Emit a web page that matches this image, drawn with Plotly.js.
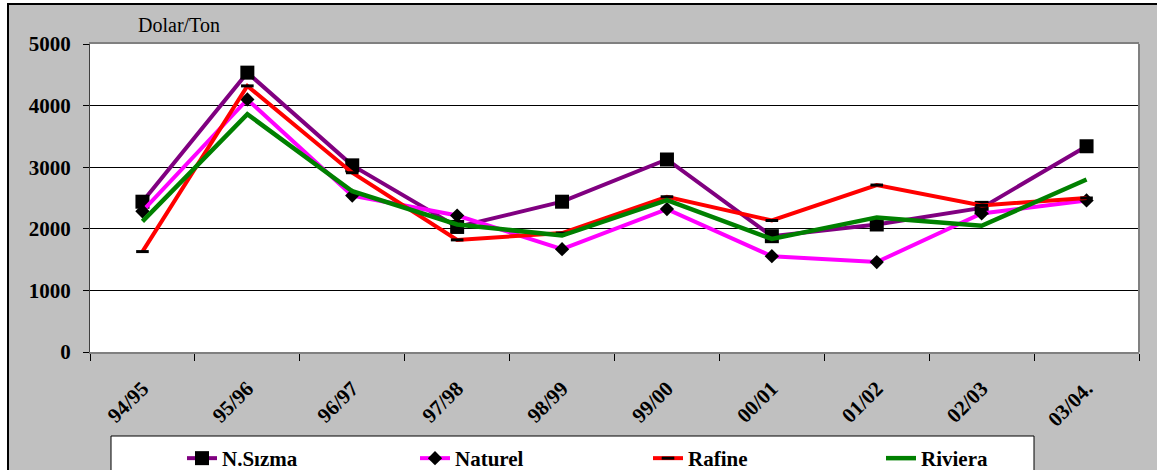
<!DOCTYPE html>
<html>
<head>
<meta charset="utf-8">
<script src="https://cdn.plot.ly/plotly-3.0.1.min.js"></script>
<style>
    html, body { margin: 0; padding: 0; background: #ffffff; }
    #chart {
        position: absolute;
        left: 7px;
        top: 3px;
        width: 1148px;
        height: 465px;
        border-left: 2px solid #000;
        border-top: 2px solid #000;
    }
</style>
</head>
<body>
<div id="chart"></div>
<script>
// Sezonlar
const seasons = ['94/95', '95/96', '96/97', '97/98', '98/99', '99/00', '00/01', '01/02', '02/03', '03/04.'];

// Fiyatlar (Dolar/Ton)
const nSizma  = [2440, 4535, 3030, 2030, 2440, 3125, 1880, 2070, 2340, 3340];
const naturel = [2285, 4100, 2540, 2215, 1670, 2320, 1555, 1460, 2250, 2460];
const rafine  = [1630, 4320, 2910, 1820, 1930, 2520, 2135, 2710, 2380, 2500];
const riviera = [2120, 3860, 2610, 2070, 1890, 2465, 1835, 2185, 2050, 2800];

const fontFamily = 'Liberation Serif';

const traces = [
    {
        x: seasons, y: nSizma, name: 'N.Sızma', mode: 'lines+markers',
        line: { color: '#800080', width: 4 },
        marker: { symbol: 'square', size: 14, color: '#000000' }
    },
    {
        x: seasons, y: naturel, name: 'Naturel', mode: 'lines+markers',
        line: { color: '#ff00ff', width: 4 },
        marker: { symbol: 'diamond', size: 11, color: '#000000' }
    },
    {
        x: seasons, y: rafine, name: 'Rafine', mode: 'lines+markers',
        line: { color: '#ff0000', width: 4 },
        marker: { symbol: 'line-ew', size: 9, color: '#000000', line: { color: '#000000', width: 3 } }
    },
    {
        x: seasons, y: riviera, name: 'Riviera', mode: 'lines',
        line: { color: '#008000', width: 4.5 }
    }
];

// piksel -> paper dönüşümü (çizim alanı 90..1139 x 44..352)
const px = v => (v - 90) / 1049;
const py = v => (352 - v) / 308;

const layout = {
    width: 1148,
    height: 465,
    margin: { l: 81, r: 18, t: 39, b: 118 },
    paper_bgcolor: '#c0c0c0',
    plot_bgcolor: '#ffffff',
    font: { family: fontFamily, color: '#000000' },
    showlegend: true,
    xaxis: {
        type: 'category',
        range: [-0.5, 9.5],
        tickson: 'boundaries',
        ticks: 'outside',
        ticklen: 7,
        tickcolor: '#000000',
        showgrid: false,
        showline: true,
        linecolor: '#808080',
        linewidth: 2,
        mirror: true,
        tickangle: -45,
        ticklabelstandoff: 14,
        tickfont: { family: fontFamily, size: 21, weight: 'bold' }
    },
    yaxis: {
        range: [0, 5000],
        dtick: 1000,
        ticks: 'outside',
        ticklen: 6,
        tickcolor: '#000000',
        showline: true,
        linecolor: '#404040',
        linewidth: 1,
        gridcolor: '#000000',
        gridwidth: 1,
        zeroline: false,
        ticklabelstandoff: 8,
        tickfont: { family: fontFamily, size: 21, weight: 'bold' }
    },
    legend: {
        orientation: 'h',
        xref: 'container',
        yref: 'container',
        x: (182 - 9) / 1148,
        y: 1 - (438 - 5) / 465,
        xanchor: 'left',
        yanchor: 'top',
        bgcolor: 'rgba(0,0,0,0)',
        borderwidth: 0,
        entrywidth: 188,
        entrywidthmode: 'pixels',
        font: { family: fontFamily, size: 21, weight: 'bold' }
    },
    shapes: [
        {
            type: 'rect', xref: 'paper', yref: 'paper',
            x0: px(111), x1: px(1034), y0: py(436), y1: py(490),
            fillcolor: '#ffffff', line: { color: '#000000', width: 1 }
        },
        {
            type: 'line', xref: 'paper', yref: 'paper',
            x0: 1, x1: 1, y0: 0, y1: 1,
            line: { color: '#808080', width: 2 }
        }
    ],
    annotations: [
        {
            text: 'Dolar/Ton', xref: 'paper', yref: 'paper',
            x: px(136), y: py(25), xanchor: 'left', yanchor: 'middle',
            showarrow: false,
            font: { family: fontFamily, size: 20, color: '#000000' }
        }
    ]
};

Plotly.newPlot('chart', traces, layout, { displayModeBar: false, staticPlot: true });
</script>
</body>
</html>
